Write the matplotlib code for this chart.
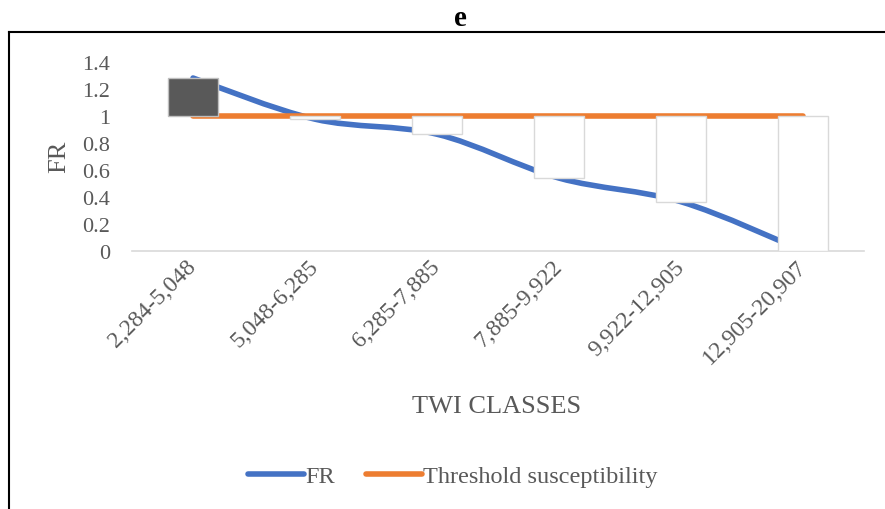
import matplotlib.pyplot as plt
import numpy as np
from matplotlib.lines import Line2D
from matplotlib.path import Path
from matplotlib.patches import PathPatch

plt.rcParams["font.family"] = ["Liberation Serif", "DejaVu Serif"]

classes = ["2,284-5,048", "5,048-6,285", "6,285-7,885",
           "7,885-9,922", "9,922-12,905", "12,905-20,907"]
fr = [1.284, 0.978, 0.866, 0.54, 0.364, 0.0]
threshold = [1, 1, 1, 1, 1, 1]

BLUE = "#4472C4"
ORANGE = "#ED7D31"
TEXT = "#595959"


def smooth_path(xs, ys):
    # cubic bezier through the points, same kind of smoothing as office charts
    pts = np.column_stack([xs, ys]).astype(float)
    n = len(pts)
    verts = [pts[0]]
    codes = [Path.MOVETO]
    for i in range(n - 1):
        p0 = pts[max(i - 1, 0)]
        p1 = pts[i]
        p2 = pts[i + 1]
        p3 = pts[min(i + 2, n - 1)]
        c1 = p1 + (p2 - p0) / 6
        c2 = p2 - (p3 - p1) / 6
        verts += [c1, c2, p2]
        codes += [Path.CURVE4] * 3
    return Path(verts, codes)


fig = plt.figure(figsize=(8.85, 5.1), dpi=100)
ax = fig.add_axes([132 / 885, 1 - 251.7 / 510, 732 / 885, 188.3 / 510])

x = np.arange(len(classes))
ax.add_patch(PathPatch(smooth_path(x, fr), fill=False, edgecolor=BLUE,
                       lw=4, capstyle="round", zorder=2))
ax.plot(x, threshold, color=ORANGE, lw=4, solid_capstyle="round", zorder=2)

# up/down bars between the threshold and FR
for xi, v, t in zip(x, fr, threshold):
    up = v > t
    ax.bar(xi, v - t, bottom=t, width=0.41,
           color="#595959" if up else "white",
           edgecolor="#BFBFBF" if up else "#D9D9D9",
           linewidth=1.0, zorder=3)

ax.set_xlim(-0.5, len(classes) - 0.5)
ax.set_ylim(0, 1.4)
ax.set_yticks([0, 0.2, 0.4, 0.6, 0.8, 1, 1.2, 1.4])
ax.set_yticklabels(["0", "0.2", "0.4", "0.6", "0.8", "1", "1.2", "1.4"])
ax.set_xticks(x)
ax.set_xticklabels(classes, rotation=45, ha="right", va="center",
                   rotation_mode="anchor")
ax.tick_params(axis="y", length=0, pad=16, labelsize=16, labelcolor=TEXT)
ax.tick_params(axis="x", length=0, pad=9, labelsize=17, labelcolor=TEXT)
for side in ["left", "right", "top"]:
    ax.spines[side].set_visible(False)
ax.spines["bottom"].set_color("#D9D9D9")
ax.spines["bottom"].set_linewidth(1.2)

fig.text(59 / 885, 1 - 157 / 510, "FR", rotation=90, ha="center",
         va="center", fontsize=19, color=TEXT)
fig.text(497 / 885, 1 - 407 / 510, "TWI CLASSES", ha="center",
         va="center", fontsize=19, color=TEXT)
fig.text(460 / 885, 1 - 19 / 510, "e", ha="center", va="center",
         fontsize=21, fontweight="bold", color="black")

handles = [Line2D([], [], color=BLUE, lw=4, solid_capstyle="round"),
           Line2D([], [], color=ORANGE, lw=4, solid_capstyle="round")]
leg = fig.legend(handles, ["FR", "Threshold susceptibility"], loc="center",
                 bbox_to_anchor=(453 / 885, 1 - 477 / 510), ncol=2,
                 frameon=False, fontsize=17.5, handlelength=2.3,
                 handletextpad=0.05, columnspacing=1.3)
for t in leg.get_texts():
    t.set_color(TEXT)

# chart frame edges
fig.add_artist(Line2D([9 / 885, 1], [1 - 33 / 510, 1 - 33 / 510],
                      color="black", lw=1.5, transform=fig.transFigure))
fig.add_artist(Line2D([9 / 885, 9 / 885], [0, 1 - 33 / 510],
                      color="black", lw=1.5, transform=fig.transFigure))

fig.savefig("out.png", dpi=100)
